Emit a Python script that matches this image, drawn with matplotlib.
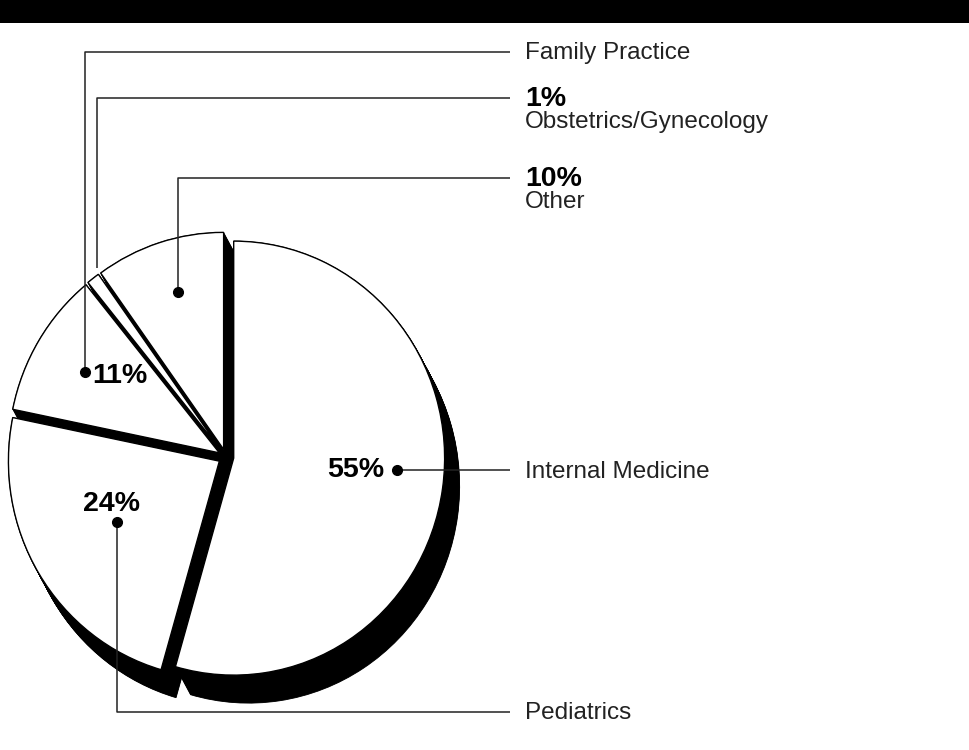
import matplotlib
matplotlib.use("Agg")
import matplotlib.pyplot as plt

# shares of physicians by specialty (clockwise from 12 o'clock)
specialties = ["Internal Medicine", "Pediatrics", "Family Practice",
               "Obstetrics/Gynecology", "Other"]
shares = [55, 24, 11, 1, 10]

plt.rcParams['font.family'] = ['Liberation Sans', 'DejaVu Sans']

fig = plt.figure(figsize=(9.69, 7.5), dpi=100)

# pie gets its own axes, slightly squeezed horizontally
sx = 0.972
pax = fig.add_axes([0, 0, 1, 1])
ax = fig.add_axes([0, 0, 1, 1])
ax.patch.set_alpha(0)

cx, cy = 226 / sx, 457
rad = 217
expl = [8] * len(shares)   # pie() offsets in data units
depth_x, depth_y = 15 / sx, 28

# extruded black side of the pie
steps = 40
for k in range(steps + 1):
    t = k / steps
    pax.pie(shares, radius=rad, center=(cx + t * depth_x, cy + t * depth_y),
            explode=expl, startangle=-90, counterclock=True, frame=True,
            colors=["black"] * len(shares),
            wedgeprops=dict(linewidth=0.6, edgecolor="black"))

# white top face
pax.pie(shares, radius=rad, center=(cx, cy), explode=expl, startangle=-90,
        counterclock=True, frame=True, colors=["white"] * len(shares),
        wedgeprops=dict(linewidth=1.0, edgecolor="black"))

pax.set_xlim(0, 969 / sx)
pax.set_ylim(750, 0)
pax.set_aspect("auto")
pax.axis("off")

# top black band
ax.fill_between([0, 969], 0, 23, color="black", lw=0)

txt_col = "#222222"
name_fs = 17.5
pct_fs = 20.5
line_kw = dict(color=txt_col, lw=1.1, solid_capstyle="butt")
dot_kw = dict(marker="o", ms=7, color="black", ls="none")
lab_x = 525
line_end = 510

# Family Practice
ax.plot([85, 85, line_end], [372, 52, 52], **line_kw)
ax.plot([85], [372], **dot_kw)
ax.text(lab_x, 53, specialties[2], fontsize=name_fs, va="center", color=txt_col)
ax.text(92, 376, f"{shares[2]}%", fontsize=pct_fs, fontweight="bold", va="center")

# Obstetrics/Gynecology
ax.plot([97, 97, line_end], [268, 98, 98], **line_kw)
ax.text(lab_x, 99, f"{shares[3]}%", fontsize=pct_fs, fontweight="bold", va="center")
ax.text(lab_x, 122, specialties[3], fontsize=name_fs, va="center", color=txt_col)

# Other
ax.plot([178, 178, line_end], [292, 178, 178], **line_kw)
ax.plot([178], [292], **dot_kw)
ax.text(lab_x, 179, f"{shares[4]}%", fontsize=pct_fs, fontweight="bold", va="center")
ax.text(lab_x, 202, specialties[4], fontsize=name_fs, va="center", color=txt_col)

# Internal Medicine
ax.plot([397, line_end], [470, 470], **line_kw)
ax.plot([397], [470], **dot_kw)
ax.text(384, 470, f"{shares[0]}%", fontsize=pct_fs, fontweight="bold",
        va="center", ha="right")
ax.text(lab_x, 472, specialties[0], fontsize=name_fs, va="center", color=txt_col)

# Pediatrics
ax.plot([117, 117, line_end], [522, 712, 712], **line_kw)
ax.plot([117], [522], **dot_kw)
ax.text(112, 504, f"{shares[1]}%", fontsize=pct_fs, fontweight="bold",
        va="center", ha="center")
ax.text(lab_x, 713, specialties[1], fontsize=name_fs, va="center", color=txt_col)

ax.set_xlim(0, 969)
ax.set_ylim(750, 0)
ax.axis("off")

fig.savefig("out.png", dpi=100)
